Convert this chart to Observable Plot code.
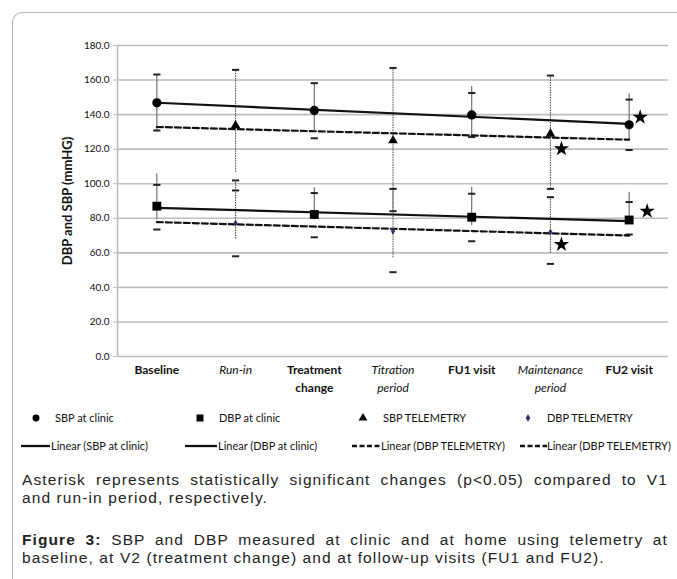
<!DOCTYPE html>
<html><head><meta charset="utf-8">
<script src="https://cdn.jsdelivr.net/npm/d3@7"></script>
<script src="https://cdn.jsdelivr.net/npm/@observablehq/plot@0.6"></script>
<style>
html,body{margin:0;padding:0;background:#fff;width:677px;height:579px;overflow:hidden;position:relative;}
#frame{position:absolute;left:12px;top:12px;width:720px;height:640px;border-left:1px solid #b5b5b5;border-top:1px solid #b5b5b5;border-top-left-radius:10px;}
#chart{position:absolute;left:0;top:0;}
#legsvg{position:absolute;left:0;top:0;}
.lt{position:absolute;font-family:Lato,sans-serif;font-size:11px;line-height:14px;color:#111;white-space:nowrap;}
.cap{position:absolute;left:22px;width:646px;font-family:"Liberation Sans",Arial,sans-serif;font-size:15.5px;letter-spacing:1.1px;line-height:18px;color:#222;}
.j{text-align:justify;text-align-last:justify;}
</style></head><body>
<div id="frame"></div>
<div id="chart"></div>
<svg id="legsvg" width="677" height="470"></svg>
<div id="legtext"></div>
<div class="cap" style="top:471px"><div class="j">Asterisk represents statistically significant changes (p&lt;0.05) compared to V1</div><div>and run-in period, respectively.</div></div>
<div class="cap" style="top:531px"><div class="j"><b>Figure 3:</b> SBP and DBP measured at clinic and at home using telemetry at</div><div>baseline, at V2 (treatment change) and at follow-up visits (FU1 and FU2).</div></div>
<script>
// ---- data ----
const categories = ["Baseline", "Run-in", "Treatment\nchange", "Titration\nperiod", "FU1 visit", "Maintenance\nperiod", "FU2 visit"];
const visitIdx = [1, 3, 5, 7];     // clinic visits (bold labels)
const periodIdx = [2, 4, 6];       // telemetry periods (italic labels)
const yTicks = [0, 20, 40, 60, 80, 100, 120, 140, 160, 180];
const yLabel = "DBP and SBP (mmHG)";

// clinic (at visits)
const sbpClinic        = [146.8, 142.4, 139.8, 134.1];
const sbpClinicCapLo   = [130.8, 126.3, 127.0, 119.5];
const sbpClinicCapHi   = [163.2, 158.2, 152.5, 148.7];
const sbpClinicBarLo   = [130.8, 130.8, 127.9, 125.0];
const sbpClinicBarHi   = [163.2, 158.2, 156.4, 152.0];

const dbpClinic        = [87.0, 82.2, 80.6, 79.0];
const dbpClinicCapLo   = [73.5, 69.0, 66.7, 70.6];
const dbpClinicCapHi   = [99.3, 94.6, 94.2, 89.4];
const dbpClinicBarLo   = [79.0, 79.0, 75.8, 77.0];
const dbpClinicBarHi   = [105.7, 97.6, 98.0, 95.0];

// telemetry (during periods)
const sbpTele          = [133.7, 125.0, 128.8];
const sbpTeleCapLo     = [101.9, 84.1, 97.0];
const sbpTeleCapHi     = [165.9, 167.0, 162.6];
const sbpTeleBarLo     = [106.6, 84.1, 97.0];
const sbpTeleBarHi     = [165.9, 167.0, 162.6];

const dbpTele          = [77.2, 72.5, 72.0];
const dbpTeleCapLo     = [58.0, 48.8, 53.6];
const dbpTeleCapHi     = [96.1, 97.0, 92.2];
const dbpTeleBarLo     = [68.0, 57.1, 59.8];
const dbpTeleBarHi     = [101.9, 97.0, 92.2];

// significance stars
const starIdx   = [7, 6, 6];
const starValue = [138.5, 120.2, 64.8];
const starIdx2   = [7];
const starValue2 = [84.1];

const legendItems = ["SBP at clinic", "DBP at clinic", "SBP TELEMETRY", "DBP TELEMETRY"];
const legendLines = ["Linear (SBP at clinic)", "Linear (DBP at clinic)", "Linear (DBP TELEMETRY)", "Linear (DBP TELEMETRY)"];

// ---- build tables ----
function rows(idx, v, capLo, capHi, barLo, barHi) {
  return idx.map((x, i) => ({x, v: v[i], capLo: capLo[i], capHi: capHi[i], barLo: barLo[i], barHi: barHi[i]}));
}
const S_C = rows(visitIdx, sbpClinic, sbpClinicCapLo, sbpClinicCapHi, sbpClinicBarLo, sbpClinicBarHi);
const D_C = rows(visitIdx, dbpClinic, dbpClinicCapLo, dbpClinicCapHi, dbpClinicBarLo, dbpClinicBarHi);
const S_T = rows(periodIdx, sbpTele, sbpTeleCapLo, sbpTeleCapHi, sbpTeleBarLo, sbpTeleBarHi);
const D_T = rows(periodIdx, dbpTele, dbpTeleCapLo, dbpTeleCapHi, dbpTeleBarLo, dbpTeleBarHi);
const clinic = S_C.concat(D_C);
const tele = S_T.concat(D_T);
const all = clinic.concat(tele);
const caps = all.flatMap(d => [{x: d.x, y: d.capLo}, {x: d.x, y: d.capHi}]);

// linear trend over full category range (Excel-style)
function trend(idx, v) {
  const mx = d3.mean(idx), my = d3.mean(v);
  const b = d3.sum(idx, (x, i) => (x - mx) * (v[i] - my)) / d3.sum(idx, x => (x - mx) ** 2);
  const a = my - b * mx;
  const x0 = 1, x1 = categories.length;
  return [{x: x0, y: a + b * x0}, {x: x1, y: a + b * x1}];
}
const trSC = trend(visitIdx, sbpClinic);
const trDC = trend(visitIdx, dbpClinic);
const trST = trend(periodIdx, sbpTele);
const trDT = trend(periodIdx, dbpTele);

const stars1 = starIdx.map((x, i) => ({x, y: starValue[i]}));
const stars2 = starIdx2.map((x, i) => ({x, y: starValue2[i]}));

const capSymbol = {draw(ctx, size) { const w = Math.sqrt(size / Math.PI); ctx.moveTo(-w, 0); ctx.lineTo(w, 0); }};

const grid = "#bdbdbd";
const chart = Plot.plot({
  width: 677, height: 400,
  marginLeft: 117, marginRight: 9, marginTop: 45, marginBottom: 44,
  style: {background: "transparent", fontFamily: "Lato, sans-serif", color: "#111", overflow: "visible"},
  x: {domain: [0.5, categories.length + 0.5]},
  y: {domain: [0, 180]},
  marks: [
    Plot.gridY({ticks: yTicks, stroke: grid, strokeOpacity: 1, strokeWidth: 1.6}),
    Plot.ruleX([0.5], {y1: 0, y2: 180, stroke: grid, strokeWidth: 1.6}),
    Plot.axisY({ticks: yTicks, tickFormat: d => d.toFixed(1), tickSize: 4, tickPadding: 4, stroke: grid, strokeOpacity: 1, fill: "#111", fontSize: 10, label: null}),
    Plot.axisX({ticks: visitIdx, tickFormat: i => categories[i - 1], tickSize: 0, tickPadding: 5, fontWeight: "bold", fontSize: 12, lineHeight: 1.5, fill: "#111", label: null}),
    Plot.axisX({ticks: periodIdx, tickFormat: i => categories[i - 1], tickSize: 0, tickPadding: 5, fontStyle: "italic", fontSize: 12, lineHeight: 1.5, fill: "#111", label: null}),
    Plot.text([yLabel], {frameAnchor: "left", textAnchor: "middle", dx: -50, rotate: -90, fontWeight: "bold", fontSize: 13, fill: "#111"}),
    // error bars
    Plot.ruleX(clinic, {x: "x", y1: "barLo", y2: "barHi", stroke: "#666", strokeWidth: 1.1}),
    Plot.ruleX(tele, {x: "x", y1: "barLo", y2: "barHi", stroke: "#555", strokeWidth: 1.1, strokeDasharray: "1.5,1"}),
    Plot.dot(caps, {x: "x", y: "y", symbol: capSymbol, r: 3.6, stroke: "#222", strokeWidth: 2, fill: "none"}),
    // trend lines
    Plot.line(trSC, {x: "x", y: "y", stroke: "#111", strokeWidth: 2.2}),
    Plot.line(trDC, {x: "x", y: "y", stroke: "#111", strokeWidth: 2.2}),
    Plot.line(trST, {x: "x", y: "y", stroke: "#111", strokeWidth: 2.2, strokeDasharray: "6,3"}),
    Plot.line(trDT, {x: "x", y: "y", stroke: "#111", strokeWidth: 2.2, strokeDasharray: "6,3"}),
    // markers
    Plot.dot(S_C, {x: "x", y: "v", r: 4.6, fill: "#000", symbol: "circle"}),
    Plot.dot(D_C, {x: "x", y: "v", r: 5, fill: "#000", symbol: "square"}),
    Plot.dot(S_T, {x: "x", y: "v", r: 3.6, fill: "#000", symbol: "triangle"}),
    Plot.dot(D_T, {x: "x", y: "v", r: 2.2, fill: "#3d2b6b", symbol: "diamond"}),
    // stars
    Plot.dot(stars1, {x: "x", y: "y", dx: 11, r: 4.8, fill: "#000", symbol: "star"}),
    Plot.dot(stars2, {x: "x", y: "y", dx: 18, r: 4.8, fill: "#000", symbol: "star"})
  ]
});
document.getElementById("chart").append(chart);

// ---- legend ----
const lsvg = d3.select("#legsvg");
const row1 = 418, row2 = 446;
const mk = [
  {x: 36, sym: d3.symbolCircle, size: 38, fill: "#000"},
  {x: 200, sym: d3.symbolSquare, size: 49, fill: "#000"},
  {x: 363, sym: d3.symbolTriangle, size: 34, fill: "#000"},
  {x: 528, sym: d3.symbolDiamond, size: 18, fill: "#3d2b6b"}
];
mk.forEach(m => lsvg.append("path").attr("d", d3.symbol(m.sym, m.size)()).attr("transform", `translate(${m.x},${row1})`).attr("fill", m.fill));
const ln = [
  {x1: 21, x2: 50, dash: null},
  {x1: 185, x2: 217, dash: null},
  {x1: 352, x2: 380, dash: "5,2.5"},
  {x1: 520, x2: 547, dash: "5,2.5"}
];
ln.forEach(l => lsvg.append("line").attr("x1", l.x1).attr("x2", l.x2).attr("y1", row2).attr("y2", row2)
  .attr("stroke", "#111").attr("stroke-width", 2.3).attr("stroke-dasharray", l.dash));
const lt = document.getElementById("legtext");
const t1x = [55, 219, 383, 547], t2x = [51, 218, 381, 547];
legendItems.forEach((t, i) => { const s = document.createElement("span"); s.className = "lt"; s.textContent = t; s.style.left = t1x[i] + "px"; s.style.top = (row1 - 7) + "px"; lt.append(s); });
legendLines.forEach((t, i) => { const s = document.createElement("span"); s.className = "lt"; s.textContent = t; s.style.left = t2x[i] + "px"; s.style.top = (row2 - 7) + "px"; lt.append(s); });
</script>
</body></html>
